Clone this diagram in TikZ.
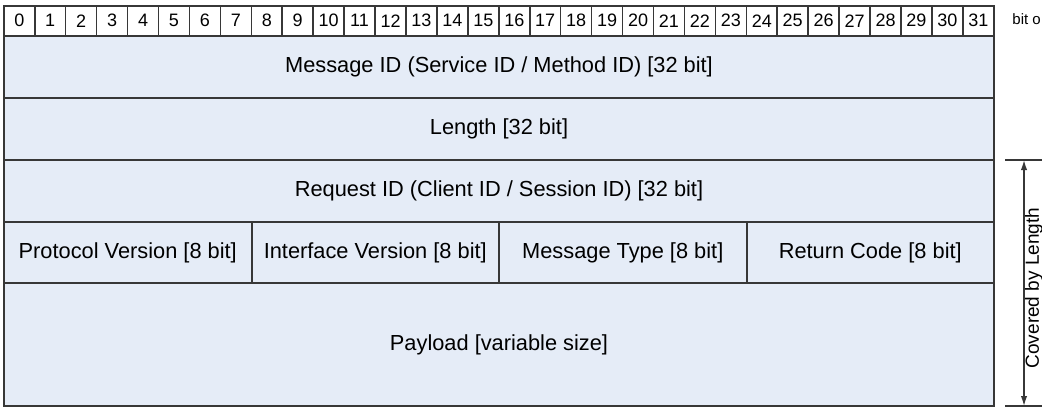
\documentclass[tikz,border=0pt]{standalone}
\usepackage{fontspec}
\setmainfont{Liberation Sans}
\usetikzlibrary{arrows.meta}
\definecolor{fieldfill}{RGB}{229,236,247}
\definecolor{rulecol}{RGB}{55,55,55}
\begin{document}
\begin{tikzpicture}[x=0.5pt,y=-0.5pt,
  field/.style={draw=rulecol, line width=1pt, fill=fieldfill, inner sep=0pt,
    anchor=north west, font=\fontsize{10.9}{12}\selectfont},
  widefield/.style={field, minimum width=495pt, minimum height=31pt},
  bytefield/.style={field, minimum width=123.75pt, minimum height=30.5pt},
  bitcell/.style={draw=rulecol, line width=0.8pt, fill=white, inner sep=0pt,
    anchor=north west, minimum width=15.47pt, minimum height=15pt,
    font=\fontsize{9}{10}\selectfont},
  tick/.style={draw=rulecol, line width=0.7pt},
  span/.style={draw=rulecol, line width=0.7pt, {Latex[length=5pt,width=3.2pt]}-{Latex[length=5pt,width=3.2pt]}},
  sidelabel/.style={inner sep=0pt, font=\fontsize{7.5}{8}\selectfont},
]
\useasboundingbox (0,0) rectangle (1042,412);

% bit numbering row
\foreach \i in {0,...,31}
  \node[bitcell] (b\i) at ({3+\i*30.9375},5) {\i};
\node[sidelabel, anchor=west] (bitoff) at (1012,19) {bit o};

% header fields
\node[widefield] (msgid) at (3,35) {Message ID (Service ID / Method ID) [32 bit]};
\node[widefield] (len) at (3,97) {Length [32 bit]};
\node[widefield] (reqid) at (3,159) {Request ID (Client ID / Session ID) [32 bit]};
\node[bytefield] (proto) at (3,221) {Protocol Version [8 bit]};
\node[bytefield] (iface) at (250.5,221) {Interface Version [8 bit]};
\node[bytefield] (mtype) at (498,221) {Message Type [8 bit]};
\node[bytefield] (rcode) at (745.5,221) {Return Code [8 bit]};
\node[field, minimum width=495pt, minimum height=61.5pt] (payload) at (3,282) {Payload [variable size]};

% range covered by the length field
\coordinate (topL) at (1005,160);
\coordinate (topR) at (1042,160);
\coordinate (botL) at (1005,406);
\coordinate (botR) at (1042,406);
\coordinate (arrTop) at (1024,160);
\coordinate (arrBot) at (1024,406);
\draw[tick] (topL) -- (topR);
\draw[tick] (botL) -- (botR);
\draw[span] (arrTop) -- (arrBot);
\node[rotate=90, inner sep=0pt, font=\fontsize{9.5}{11}\selectfont] (covered) at (1034,288) {Covered by Length};
\end{tikzpicture}
\end{document}
